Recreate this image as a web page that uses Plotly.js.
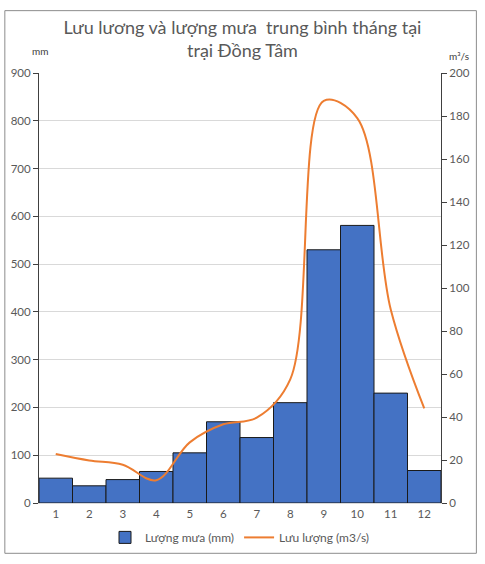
<!DOCTYPE html>
<html>
<head>
<meta charset="utf-8">
<script src="https://cdn.plot.ly/plotly-3.0.1.min.js"></script>
<style>
  body { margin: 0; background: #fff; }
  #chart { width: 485px; height: 564px; }
</style>
</head>
<body>
<div id="chart"></div>
<script>
// số liệu
var thang = ['1', '2', '3', '4', '5', '6', '7', '8', '9', '10', '11', '12'];
var luongMua = [52, 36, 49, 66, 105, 170, 137, 210, 530, 581, 230, 68];   // mm
var luuLuong = [22.8, 19.8, 17.8, 10.6, 28.2, 36.6, 39.7, 57.5, 187, 179, 90, 44]; // m3/s

var chu = '#595959';
var font = 'Lato, "Open Sans", sans-serif';

var data = [{
  type: 'bar',
  name: 'Lượng mưa (mm)',
  x: thang,
  y: luongMua,
  marker: { color: '#4472C4', line: { color: '#1a1a1a', width: 1 } },
  hoverinfo: 'x+y'
}, {
  type: 'scatter',
  mode: 'lines',
  name: 'Lưu lượng (m3/s)',
  x: thang,
  y: luuLuong,
  yaxis: 'y2',
  line: { color: '#ED7D31', width: 2, shape: 'spline', smoothing: 1 },
  hoverinfo: 'x+y'
}];

var layout = {
  width: 485,
  height: 564,
  margin: { l: 39, r: 44, t: 73, b: 56 },
  paper_bgcolor: '#fff',
  plot_bgcolor: '#fff',
  font: { family: font, color: chu, size: 11 },
  bargap: 0,
  showlegend: true,
  title: {
    text: 'Lưu lương và lượng mưa  trung bình tháng tại<br>trại Đồng Tâm',
    font: { family: font, size: 18, color: chu },
    x: 0.5, xanchor: 'center',
    yref: 'container',
    y: 0.94, yanchor: 'top'
  },
  xaxis: {
    type: 'category',
    showgrid: false,
    showline: true,
    linecolor: '#d9d9d9',
    ticks: '',
    tickfont: { size: 11.5, color: chu },
    fixedrange: true
  },
  yaxis: {
    range: [0, 900],
    dtick: 100,
    showgrid: true,
    gridcolor: '#d9d9d9',
    zeroline: false,
    showline: true,
    linecolor: '#404040',
    ticks: 'outside',
    ticklen: 5,
    tickcolor: '#404040',
    tickfont: { size: 11.5, color: chu },
    fixedrange: true
  },
  yaxis2: {
    overlaying: 'y',
    side: 'right',
    range: [0, 200],
    dtick: 20,
    showgrid: false,
    zeroline: false,
    showline: true,
    linecolor: '#404040',
    ticks: 'outside',
    ticklen: 5,
    tickcolor: '#404040',
    tickfont: { size: 11.5, color: chu },
    fixedrange: true
  },
  legend: {
    orientation: 'h',
    x: 0.5, xanchor: 'center',
    y: -0.08, yanchor: 'middle',
    font: { size: 12, color: chu },
    itemwidth: 30,
    traceorder: 'normal'
  },
  annotations: [{
    text: 'mm', xref: 'paper', yref: 'paper',
    x: 0.003, y: 1.05, xanchor: 'center', yanchor: 'middle',
    showarrow: false, font: { size: 10, color: '#404040' }
  }, {
    text: 'm³/s', xref: 'paper', yref: 'paper',
    x: 1.015, y: 1.04, xanchor: 'left', yanchor: 'middle',
    showarrow: false, font: { size: 10, color: '#404040' }
  }],
  shapes: [{
    type: 'rect', xref: 'paper', yref: 'paper',
    x0: -0.085, x1: 1.088, y0: -0.117, y1: 1.145,
    line: { color: '#8c8c8c', width: 1 }
  }]
};

Plotly.newPlot('chart', data, layout, { displayModeBar: false, staticPlot: true });
</script>
</body>
</html>
